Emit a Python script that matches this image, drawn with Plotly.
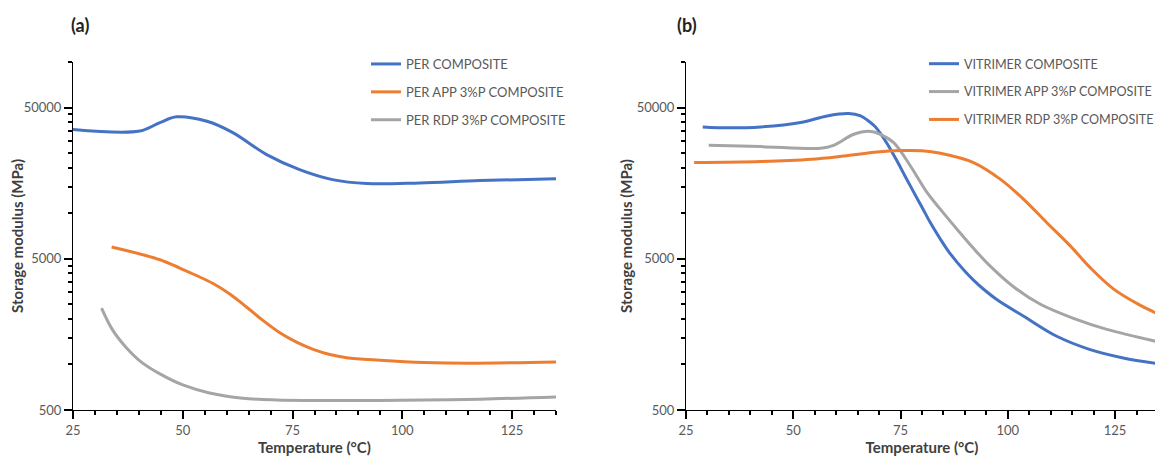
import plotly.graph_objects as go
import numpy as np

# ---- Data (a) ----
a_per_T = [25, 40.2, 44.8, 48.6, 55.5, 61.4, 69.1, 76.6, 84.1, 91.9, 104, 117.7, 135]
a_per_E = [35750, 34950, 39790, 43390, 40580, 34150, 24420, 19430, 16680, 15700, 15860, 16430, 16930]

a_app_T = [33.8, 44.8, 49.3, 53, 56.9, 60.7, 64.5, 68.3, 72.1, 75.9, 79.7, 83.5, 87.3, 94.9, 105, 115, 135]
a_app_E = [5977, 4925, 4340, 3890, 3428, 2924, 2399, 1950, 1622, 1406, 1259, 1164, 1109, 1067, 1030, 1019, 1040]

a_rdp_T = [31.5, 34, 37.2, 40.8, 44.8, 50, 56.1, 63.7, 71.4, 90.3, 99.4, 117.7, 135]
a_rdp_E = [2358, 1694, 1287, 1024, 866, 732, 648, 598, 583, 578, 580, 590, 610]

# ---- Data (b) ----
b_vit_T = [28.9, 35, 42.4, 51.7, 57.9, 62.9, 65.7, 67.3, 69, 70.5, 72, 74, 76, 78, 80, 82,
           84.3, 86, 88.2, 90, 92, 94.5, 97.5, 103.7, 111.4, 119.2, 126.9, 135]
b_vit_E = [37200, 36700, 37200, 39790, 44000, 45620, 44000, 41210, 37580, 33110, 28510, 22650,
           17700, 13900, 10960, 8610, 6730, 5690, 4732, 4140, 3614, 3119, 2679, 2084, 1536, 1254,
           1105, 1013]

b_app_T = [30.3, 42.4, 56.4, 59.4, 64.1, 67.6, 70.3, 73.4, 77.3, 81.2, 84.3, 88.2, 92.0, 95.9,
           101.4, 107.6, 115.3, 123.1, 135]
b_app_E = [28130, 27580, 26880, 28130, 33280, 34830, 33280, 29320, 20530, 13680, 10604, 7816,
           5861, 4467, 3251, 2500, 2018, 1706, 1413]

b_rdp_T = [26.9, 42.4, 54.1, 61.8, 69.6, 75, 80, 84.3, 92.0, 98.3, 103.7, 109.1, 114.5, 119.2,
           124.6, 130.8, 135]
b_rdp_E = [21620, 21950, 22730, 23900, 25410, 25950, 25900, 24900, 21620, 16750, 12350, 8656,
           6109, 4365, 3162, 2466, 2158]

x_ticks = [25, 50, 75, 100, 125]
y_ticks = [500, 5000, 50000]
y_tick_labels = ["500", "5000", "50000"]

BLUE = "#4472C4"
ORANGE = "#ED7D31"
GRAY = "#A5A5A5"
FONT = "Lato"
AX = "#000000"

OFF = 8
W, H = 1163 - OFF, 463 - OFF


def px(x):
    return (x - OFF) / W


def py(y):
    return 1 - (y - OFF) / H


fig = go.Figure()


def add(x, y, name, color, xa, ya, legend):
    fig.add_trace(go.Scatter(
        x=x, y=y, name=name, mode="lines",
        line=dict(color=color, width=3, shape="spline", smoothing=1.0),
        xaxis=xa, yaxis=ya, legend=legend, legendgroup=name,
    ))


add(a_per_T, a_per_E, "PER COMPOSITE", BLUE, "x", "y", "legend")
add(a_app_T, a_app_E, "PER APP 3%P COMPOSITE", ORANGE, "x", "y", "legend")
add(a_rdp_T, a_rdp_E, "PER RDP 3%P COMPOSITE", GRAY, "x", "y", "legend")

add(b_vit_T, b_vit_E, "VITRIMER COMPOSITE", BLUE, "x2", "y2", "legend2")
add(b_app_T, b_app_E, "VITRIMER APP 3%P COMPOSITE", GRAY, "x2", "y2", "legend2")
add(b_rdp_T, b_rdp_E, "VITRIMER RDP 3%P COMPOSITE", ORANGE, "x2", "y2", "legend2")

y_minor = [v for v in range(1000, 5000, 500)] + [v for v in range(10000, 50000, 5000)] + [100000]
YR = [np.log10(500), 5]


def xaxis(domain, anchor):
    return dict(
        domain=domain, anchor=anchor, range=[25, 135], tickmode="array", tickvals=x_ticks,
        automargin=False,
        ticks="outside", ticklen=8, tickwidth=2, tickcolor=AX,
        showline=True, linecolor=AX, linewidth=1, showgrid=False, zeroline=False,
        tickfont=dict(family=FONT, size=13, color="#595959"),
        minor=dict(ticks="outside", ticklen=4, tickwidth=1.5, tickcolor=AX,
                   tickmode="linear", dtick=5, tick0=25, showgrid=False),
        title=dict(text="<b>Temperature (°C)</b>",
                   font=dict(family=FONT, size=15, color="#404040"), standoff=4),
    )


def yaxis(domain, anchor):
    return dict(
        domain=domain, anchor=anchor, type="log", range=YR, automargin=False,
        tickmode="array", tickvals=y_ticks, ticktext=y_tick_labels,
        ticks="outside", ticklen=8, tickwidth=2, tickcolor=AX,
        showline=True, linecolor=AX, linewidth=1, showgrid=False, zeroline=False,
        tickfont=dict(family=FONT, size=13, color="#595959"),
        minor=dict(ticks="outside", ticklen=4, tickwidth=1.5, tickcolor=AX,
                   tickmode="array", tickvals=y_minor, showgrid=False),
        title=dict(text="<b>Storage modulus (MPa)</b>",
                   font=dict(family=FONT, size=15, color="#404040"), standoff=0),
    )


xd1 = [px(73), px(556)]
xd2 = [px(686), px(1158)]
ydom = [py(410), py(62)]

fig.update_layout(
    template="none",
    width=W, height=H,
    margin=dict(l=0, r=0, t=0, b=0, autoexpand=False),
    paper_bgcolor="white", plot_bgcolor="white",
    showlegend=True,
    xaxis=xaxis(xd1, "y"),
    yaxis=yaxis(ydom, "x"),
    xaxis2=xaxis(xd2, "y2"),
    yaxis2=yaxis(ydom, "x2"),
    legend=dict(x=px(366), y=py(49), xanchor="left", yanchor="top",
                font=dict(family=FONT, size=13, color="#595959"), tracegroupgap=8,
                bgcolor="rgba(0,0,0,0)"),
    legend2=dict(x=px(924), y=py(49), xanchor="left", yanchor="top",
                 font=dict(family=FONT, size=12.6, color="#595959"), tracegroupgap=8.5,
                 bgcolor="rgba(0,0,0,0)"),
    annotations=[
        dict(text="<b>(a)</b>", x=px(80), y=py(25), xref="paper", yref="paper",
             xanchor="center", yanchor="middle",
             showarrow=False, font=dict(family=FONT, size=18, color="#222222")),
        dict(text="<b>(b)</b>", x=px(687), y=py(25), xref="paper", yref="paper",
             xanchor="center", yanchor="middle",
             showarrow=False, font=dict(family=FONT, size=18, color="#222222")),
    ],
)

fig.write_html("out.html")
